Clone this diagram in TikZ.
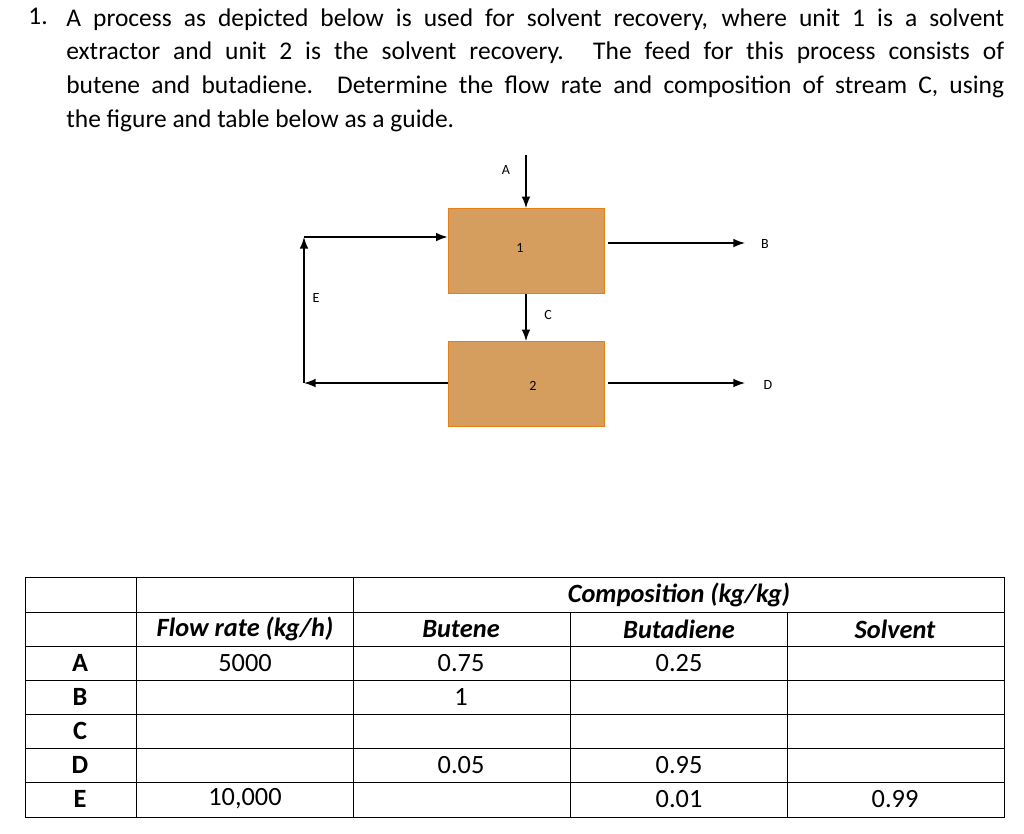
\documentclass[tikz,border=0pt]{standalone}
\usepackage{fontspec}
\setmainfont{Carlito}
\usetikzlibrary{positioning, arrows.meta}
\tikzset{%
  unit/.style   = {draw = orange!60!brown, fill = unitfill, minimum width = 3.12cm,
    minimum height = 1.7cm, inner sep = 0pt},
  flow/.style   = {-Latex, thick},
  tag/.style    = {font = \fontsize{8}{9}\selectfont},
  cell/.style   = {font = \fontsize{15}{17}\selectfont},
  head/.style   = {font = \fontsize{15}{17}\selectfont\bfseries\itshape}
}
\definecolor{unitfill}{HTML}{D69E5E}
\begin{document}
\begin{tikzpicture}[x = 0.02cm, y = -0.02cm]
\useasboundingbox (0,0) rectangle (1024,833);
%problem text
\node[anchor = north west, inner sep = 0pt, font = \fontsize{14.5}{19.3}\selectfont] (num) at (28,8) {1.};
\node[anchor = north west, inner sep = 0pt, text width = 18.76cm, align = justify,
  font = \fontsize{14.5}{19.3}\selectfont] (text) at (66,8)
  {A process as depicted below is used for solvent recovery, where unit 1 is a solvent\linebreak
  extractor and unit 2 is the solvent recovery. The feed for this process consists of\linebreak
  butene and butadiene. Determine the flow rate and composition of stream C, using\linebreak
  the figure and table below as a guide.};
%units
\node[unit] (u1) at (526,251) {};
\node[tag] at (520,248) {1};
\node[unit] (u2) at (526,384) {};
\node[tag] at (533,386) {2};
%stream ends
\coordinate (a) at (526,155);
\coordinate (b) at (745,243);
\coordinate (d) at (745,383);
\coordinate (e1) at (304,383);
\coordinate (e2) at (304,237);
\coordinate (b0) at (608,243);
\coordinate (d0) at (608,383);
%streams
\draw[flow] (a) -- (u1.north);
\draw[flow] (b0) -- (b);
\draw[flow] (u1.south) -- (u2.north);
\draw[flow] (d0) -- (d);
\draw[flow] (u2.west |- e1) -- (e1);
\draw[flow] (e1) -- (e2);
\draw[flow] (e2) -- (u1.west |- e2);
%stream labels
\node[tag] at (506,170) {A};
\node[tag] at (765,244) {B};
\node[tag] at (548,315) {C};
\node[tag] at (768,385) {D};
\node[tag] at (316,298) {E};
%table grid
\draw (25,577) rectangle (1004,817);
\foreach \y in {612,646,680,714,748,782}
  \draw (25,\y) -- (1004,\y);
\foreach \x in {136,353}
  \draw (\x,577) -- (\x,817);
\foreach \x in {570,787}
  \draw (\x,612) -- (\x,817);
%table text
\node[head] at (679,595) {Composition (kg/kg)};
\node[head] at (245,629) {Flow rate (kg/h)};
\node[head] at (461,629) {Butene};
\node[head] at (679,629) {Butadiene};
\node[head] at (895,629) {Solvent};
\foreach \r/\y in {A/663,B/697,C/731,D/765,E/799}
  \node[cell, font = \fontsize{15}{17}\selectfont\bfseries] at (80,\y) {\r};
\node[cell] at (245,663) {5000};
\node[cell] at (461,663) {0.75};
\node[cell] at (679,663) {0.25};
\node[cell] at (461,697) {1};
\node[cell] at (461,765) {0.05};
\node[cell] at (679,765) {0.95};
\node[cell] at (245,799) {10,000};
\node[cell] at (679,799) {0.01};
\node[cell] at (895,799) {0.99};
\end{tikzpicture}
\end{document}
